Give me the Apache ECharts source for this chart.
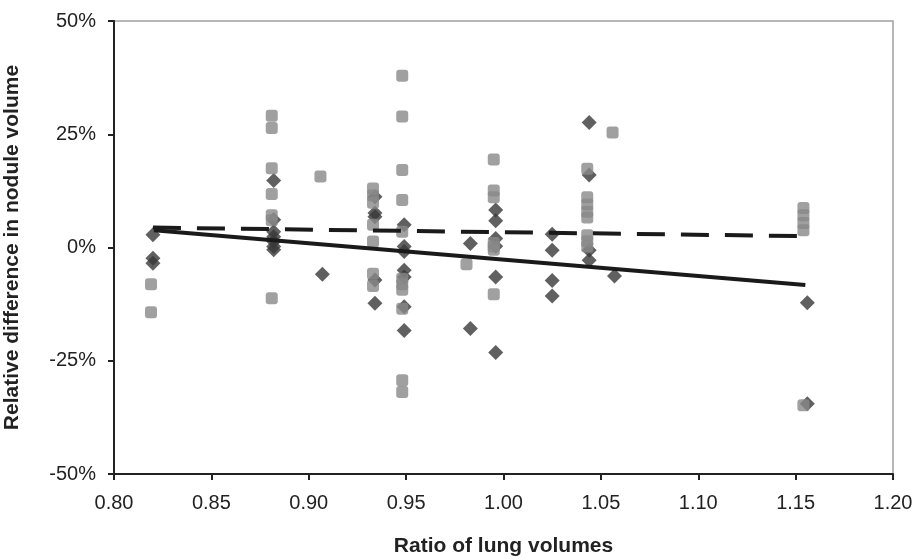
<!DOCTYPE html>
<html>
<head>
<meta charset="utf-8">
<title>Relative difference in nodule volume</title>
<script src="https://cdn.jsdelivr.net/npm/echarts@6/dist/echarts.min.js"></script>
<style>
  html, body { margin: 0; padding: 0; background: #fff; }
  #chart { width: 917px; height: 559px; }
</style>
</head>
<body>
<div id="chart"></div>
<script>
// dark diamonds
var diamondRatio = [0.820, 0.820, 0.820,
    0.882, 0.882, 0.882, 0.882, 0.882, 0.882, 0.882,
    0.907,
    0.934, 0.934, 0.934, 0.934, 0.934,
    0.949, 0.949, 0.949, 0.949, 0.949, 0.949, 0.949,
    0.983, 0.983,
    0.996, 0.996, 0.996, 0.996, 0.996, 0.996,
    1.025, 1.025, 1.025, 1.025,
    1.044, 1.044, 1.044, 1.044,
    1.057,
    1.156, 1.156];
var diamondDiff = [2.8, -2.4, -3.5,
    14.8, 6.1, 3.5, 2.4, 1.3, 0.2, -0.5,
    -5.9,
    11.2, 7.6, 6.8, -7.2, -12.3,
    5.0, 0.2, -0.9, -5.0, -6.5, -13.1, -18.3,
    0.9, -17.9,
    8.3, 5.9, 2.0, 0.3, -6.5, -23.2,
    2.9, -0.6, -7.3, -10.7,
    27.6, 16.0, -0.6, -2.8,
    -6.3,
    -12.2, -34.5];

// grey squares
var squareRatio = [0.819, 0.819,
    0.881, 0.881, 0.881, 0.881, 0.881, 0.881, 0.881,
    0.906,
    0.933, 0.933, 0.933, 0.933, 0.933, 0.933, 0.933,
    0.948, 0.948, 0.948, 0.948, 0.948, 0.948, 0.948, 0.948, 0.948, 0.948, 0.948,
    0.981,
    0.995, 0.995, 0.995, 0.995, 0.995, 0.995, 0.995,
    1.043, 1.043, 1.043, 1.043, 1.043, 1.043, 1.043, 1.043,
    1.056,
    1.154, 1.154, 1.154, 1.154, 1.154];
var squareDiff = [-8.1, -14.3,
    29.1, 26.4, 17.5, 11.8, 7.1, 6.0, -11.2,
    15.7,
    13.0, 11.5, 9.9, 5.0, 1.3, -5.8, -8.5,
    37.9, 28.9, 17.1, 10.5, 3.5, -6.9, -8.1, -9.3, -13.5, -29.3, -31.9,
    -3.7,
    19.4, 12.6, 11.1, 1.0, 0.2, -0.5, -10.3,
    17.4, 11.1, 9.5, 7.9, 6.6, 2.7, 1.4, 0.2,
    25.4,
    8.7, 7.1, 5.4, 3.8, -34.8];

// trend lines
var solidFitRatio = [0.8205, 1.155];
var solidFitDiff = [3.8, -8.3];
var dashedFitRatio = [0.820, 1.155];
var dashedFitDiff = [4.4, 2.5];

var xTicks = [0.80, 1.20, 0.05];
var yTicks = [-50, 50, 25];

function pairs(xs, ys) {
    var out = [];
    for (var i = 0; i < xs.length; i++) {
        out.push([xs[i], ys[i]]);
    }
    return out;
}

var myChart = echarts.init(document.getElementById('chart'));

var labelFont = { color: '#222', fontSize: 20, fontFamily: 'Liberation Sans' };

var option = {
    animation: false,
    backgroundColor: '#fff',
    grid: {
        left: 114,
        right: 24,
        top: 21,
        bottom: 85,
        show: true,
        borderColor: '#a0a0a0',
        borderWidth: 1.5,
        outerBoundsMode: 'none'
    },
    xAxis: {
        type: 'value',
        min: xTicks[0],
        max: xTicks[1],
        interval: xTicks[2],
        name: 'Ratio of lung volumes',
        nameLocation: 'middle',
        nameGap: 62,
        nameTextStyle: { color: '#222', fontSize: 21, fontWeight: 'bold', fontFamily: 'Liberation Sans' },
        axisLine: { show: true, onZero: false, lineStyle: { color: '#222', width: 2 } },
        axisTick: { show: true, length: 6, lineStyle: { color: '#222', width: 2 } },
        axisLabel: Object.assign({ margin: 19, formatter: function (v) { return v.toFixed(2); } }, labelFont),
        splitLine: { show: false }
    },
    yAxis: {
        type: 'value',
        min: yTicks[0],
        max: yTicks[1],
        interval: yTicks[2],
        name: 'Relative difference in nodule volume',
        nameLocation: 'middle',
        nameGap: 91,
        nameTextStyle: { color: '#222', fontSize: 21, fontWeight: 'bold', fontFamily: 'Liberation Sans' },
        axisLine: { show: true, onZero: false, lineStyle: { color: '#222', width: 2 } },
        axisTick: { show: true, length: 6, lineStyle: { color: '#222', width: 2 } },
        axisLabel: Object.assign({ margin: 18, formatter: '{value}%' }, labelFont),
        splitLine: { show: false }
    },
    series: [
        {
            type: 'scatter',
            symbol: 'diamond',
            symbolSize: 15,
            itemStyle: { color: '#383838' },
            data: pairs(diamondRatio, diamondDiff),
            z: 2
        },
        {
            type: 'scatter',
            symbol: 'roundRect',
            symbolSize: 12,
            itemStyle: { color: '#888888' },
            data: pairs(squareRatio, squareDiff),
            z: 3
        },
        {
            type: 'line',
            symbol: 'none',
            lineStyle: { color: '#1a1a1a', width: 4 },
            data: pairs(solidFitRatio, solidFitDiff),
            z: 4
        },
        {
            type: 'line',
            symbol: 'none',
            lineStyle: { color: '#1a1a1a', width: 4, type: [28, 16] },
            data: pairs(dashedFitRatio, dashedFitDiff),
            z: 4
        }
    ]
};

myChart.setOption(option);
</script>
</body>
</html>
